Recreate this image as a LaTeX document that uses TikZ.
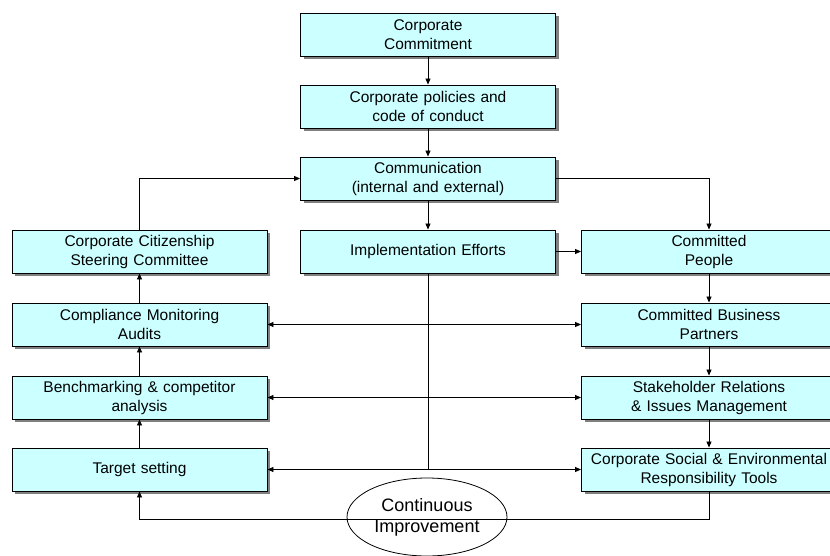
\documentclass[tikz,border=0pt]{standalone}
\usepackage{fontspec}
\setmainfont{Liberation Sans}
\usetikzlibrary{shadows,shapes.geometric,arrows.meta}
\definecolor{boxfill}{HTML}{CCFFFF}
\definecolor{shadowgray}{HTML}{808080}
\tikzset{
  stepbox/.style={draw=black, line width=0.9pt, fill=boxfill, rectangle,
    minimum width=255pt, minimum height=43pt, inner sep=0pt,
    text width=252pt, align=center,
    font=\fontsize{15.5}{19}\selectfont,
    drop shadow={shadow xshift=3pt, shadow yshift=-3pt, fill=shadowgray, opacity=1}},
  arr/.style={line width=0.8pt, -{Triangle[length=6pt,width=5pt]}},
  darr/.style={line width=0.8pt, {Triangle[length=6pt,width=5pt]}-{Triangle[length=6pt,width=5pt]}},
  plain/.style={line width=0.8pt}
}
\begin{document}
\begin{tikzpicture}[x=1pt,y=-1pt]
\useasboundingbox (0,0) rectangle (830,556);
% middle column
\node[stepbox] (cc) at (428,35) {Corporate\\Commitment};
\node[stepbox] (pol) at (428,106.5) {Corporate policies and\\code of conduct};
\node[stepbox] (comm) at (428,178.5) {Communication\\(internal and external)};
\node[stepbox] (impl) at (428,251.5) {Implementation Efforts};
% left column
\node[stepbox] (ccsc) at (139.5,251.5) {Corporate Citizenship\\Steering Committee};
\node[stepbox] (cma) at (139.5,324.5) {Compliance Monitoring\\Audits};
\node[stepbox] (bench) at (139.5,397.5) {Benchmarking \& competitor\\analysis};
\node[stepbox] (target) at (139.5,469.5) {Target setting};
% right column
\node[stepbox] (cp) at (709,251.5) {Committed\\People};
\node[stepbox] (cbp) at (709,324.5) {Committed Business\\Partners};
\node[stepbox] (sr) at (709,397.5) {Stakeholder Relations\\\& Issues Management};
\node[stepbox] (cser) at (709,469.5) {Corporate Social \& Environmental\\Responsibility Tools};
% connectors
\draw[arr] (cc.south) -- (pol.north);
\draw[arr] (pol.south) -- (comm.north);
\draw[arr] (comm.south) -- (impl.north);
\draw[arr] (ccsc.north) |- (comm.west);
\draw[arr] (comm.east) -| (cp.north);
\draw[arr] (impl.east) -- (cp.west);
\draw[arr] (cp.south) -- (cbp.north);
\draw[arr] (cbp.south) -- (sr.north);
\draw[arr] (sr.south) -- (cser.north);
\draw[arr] (cma.north) -- (ccsc.south);
\draw[arr] (bench.north) -- (cma.south);
\draw[arr] (target.north) -- (bench.south);
\draw[darr] (cma.east) -- (cbp.west);
\draw[darr] (bench.east) -- (sr.west);
\draw[darr] (target.east) -- (cser.west);
\coordinate (junc) at (impl.south |- target.east);
\draw[plain] (impl.south) -- (junc);
\coordinate (br) at (709,519);
\draw[arr] (cser.south) -- (br) -| (target.south);
\node[draw=black, line width=0.8pt, ellipse, minimum width=160pt, minimum height=78pt,
  inner sep=0pt, align=center, font=\fontsize{18}{21}\selectfont] (ci) at (427,517)
  {Continuous\\Improvement};
\end{tikzpicture}
\end{document}
